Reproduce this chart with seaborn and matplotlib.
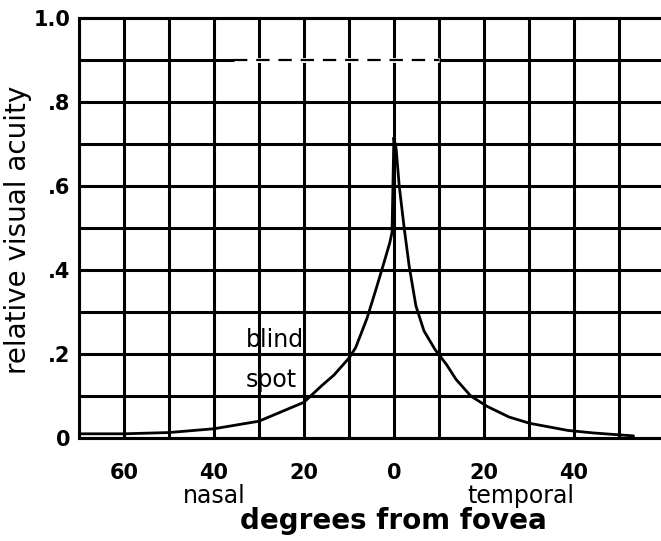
import matplotlib
matplotlib.use("Agg")
import matplotlib.pyplot as plt
import seaborn as sns
import pandas as pd

# ---- data ----
degrees = [-70, -60, -50, -40, -30, -20, -16, -13.3, -10, -8.5, -6, -4.2, -2.4, -0.9, -0.4, 0,
           0.5, 1.2, 2.3, 3.4, 4.9, 6.7, 9.2, 11.7, 13.8, 17.1, 20.8, 25.6, 30.2, 38.7, 44.4, 53.3]
acuity = [0.01, 0.01, 0.013, 0.022, 0.04, 0.085, 0.125, 0.15, 0.19, 0.215, 0.284, 0.346, 0.41,
          0.465, 0.49, 0.715,
          0.69, 0.60, 0.50, 0.41, 0.315, 0.255, 0.21, 0.175, 0.14, 0.10, 0.075, 0.05, 0.035,
          0.018, 0.012, 0.005]

x_ticks = [-60, -40, -20, 0, 20, 40]
x_tick_labels = ["60", "40", "20", "0", "20", "40"]
x_grid = list(range(-70, 60, 10))
y_grid = [round(0.1 * i, 1) for i in range(11)]
y_tick_labels = ["0", "", ".2", "", ".4", "", ".6", "", ".8", "", "1.0"]

df = pd.DataFrame({"deg": degrees, "acuity": acuity})

sns.set_style("white")
plt.rcParams["font.family"] = ["DejaVu Sans"]
plt.rcParams["text.color"] = "black"
plt.rcParams["xtick.color"] = "black"
plt.rcParams["ytick.color"] = "black"

fig = plt.figure(figsize=(6.61, 5.41), dpi=100)
ax = fig.add_axes([79 / 661, 1 - 438 / 541, 582 / 661, 420 / 541])

ax.set_xlim(-70, 59.4)
ax.set_ylim(0, 1.0)

# grid
for gx in x_grid:
    ax.axvline(gx, color="black", lw=2.2, zorder=1)
for gy in y_grid:
    ax.axhline(gy, color="black", lw=2.2, zorder=1, clip_on=False)

# broken segment of the .9 line
ax.plot([-35.5, 10], [0.9, 0.9], color="white", lw=3.5, zorder=2, solid_capstyle="butt")
ax.plot([-35.5, 10], [0.9, 0.9], color="black", lw=1.6, zorder=3, dashes=(6, 4))
# small stray dash near the peak at .6
ax.plot([-2.9, -1.1], [0.6, 0.6], color="black", lw=1.4, zorder=3)

sns.lineplot(data=df, x="deg", y="acuity", ax=ax, color="black", lw=2.0, zorder=4,
             estimator=None, sort=False)

ax.set_xticks(x_ticks)
ax.set_xticklabels(x_tick_labels, fontsize=15, fontweight="bold", color="black")
ax.set_yticks(y_grid)
ax.set_yticklabels(y_tick_labels, fontsize=15, fontweight="bold", color="black")
ax.tick_params(axis="both", length=0)
ax.tick_params(axis="x", pad=18)
ax.tick_params(axis="y", pad=6)

for s in ["left", "top", "bottom"]:
    ax.spines[s].set_color("black")
    ax.spines[s].set_linewidth(2.2)
ax.spines["right"].set_visible(False)

ax.set_xlabel("")
ax.set_ylabel("")

ax.text(-40, -0.138, "nasal", transform=ax.get_xaxis_transform(), ha="center", va="center",
        fontsize=17, color="black")
ax.text(28.2, -0.138, "temporal", transform=ax.get_xaxis_transform(), ha="center", va="center",
        fontsize=17, color="black")
ax.text(0, -0.197, "degrees from fovea", transform=ax.get_xaxis_transform(), ha="center",
        va="center", fontsize=20, fontweight="bold", color="black")
fig.text(18 / 661, 1 - 230 / 541, "relative visual acuity", rotation=90, ha="center",
         va="center", fontsize=20, color="black")

ax.text(-33, 0.233, "blind", ha="left", va="center", fontsize=17, zorder=5, color="black")
ax.text(-33, 0.138, "spot", ha="left", va="center", fontsize=17, zorder=5, color="black")

fig.savefig("out.png", dpi=100)
